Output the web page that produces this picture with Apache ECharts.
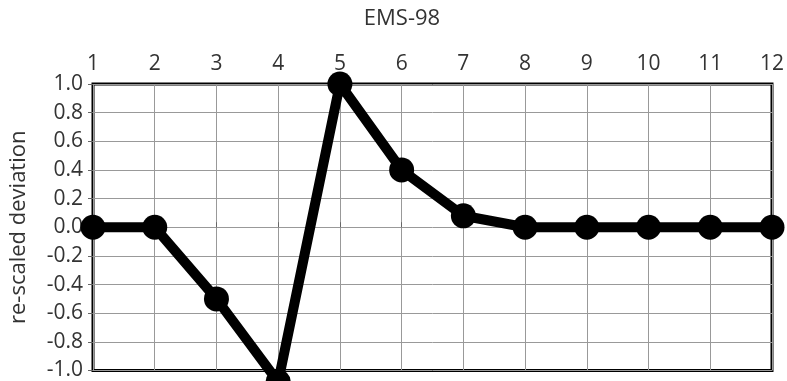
<!DOCTYPE html>
<html><head><meta charset="utf-8">
<script src="https://cdn.jsdelivr.net/npm/echarts@6/dist/echarts.min.js"></script>
<style>html,body{margin:0;padding:0;background:#fff}#c{width:787px;height:381px}</style>
</head><body><div id="c"></div>
<script>
const categories = [1,2,3,4,5,6,7,8,9,10,11,12];
const values = [0, 0, -0.5, -1.08, 1.0, 0.4, 0.08, 0, 0, 0, 0, 0];
const yTicks = [-1.0,-0.8,-0.6,-0.4,-0.2,0.0,0.2,0.4,0.6,0.8,1.0];
const titleText = 'EMS-98';
const yName = 're-scaled deviation';

const font = '"Open Sans", "DejaVu Sans", sans-serif';
const chart = echarts.init(document.getElementById('c'), null, {renderer:'canvas'});
chart.setOption({
  animation:false,
  backgroundColor:'#fff',
  title:{text:titleText, left:397, textAlign:'center', top:3,
    textStyle:{fontSize:22, fontWeight:'normal', color:'#333', fontFamily:font}},
  grid:{left:90, right:14, top:84, bottom:7, show:true, borderColor:'#000', borderWidth:3, backgroundColor:'transparent'},
  xAxis:{type:'value', position:'top', min:categories[0], max:categories[categories.length-1], interval:1,
    axisLine:{show:false},
    axisTick:{show:true, inside:false, length:5, lineStyle:{color:'#666', width:1}},
    axisLabel:{color:'#333', fontSize:21, fontFamily:font, margin:9},
    splitLine:{show:true, lineStyle:{color:'#999', width:1}}},
  yAxis:{type:'value', min:yTicks[0], max:yTicks[yTicks.length-1], interval:0.2,
    name:yName, nameLocation:'middle', nameGap:63, nameRotate:90,
    nameTextStyle:{color:'#333', fontSize:22, fontFamily:font},
    axisLine:{show:false},
    axisTick:{show:true, length:5, lineStyle:{color:'#666', width:1}},
    axisLabel:{color:'#333', fontSize:21, fontFamily:font, margin:10,
      formatter:v=>v.toFixed(1)},
    splitLine:{show:true, lineStyle:{color:'#999', width:1}}},
  series:[{type:'line', data:categories.map((c,i)=>[c, values[i]]),
    clip:false, symbol:'circle', symbolSize:25,
    lineStyle:{color:'#000', width:10},
    itemStyle:{color:'#000'}, z:10}]
});
</script></body></html>
